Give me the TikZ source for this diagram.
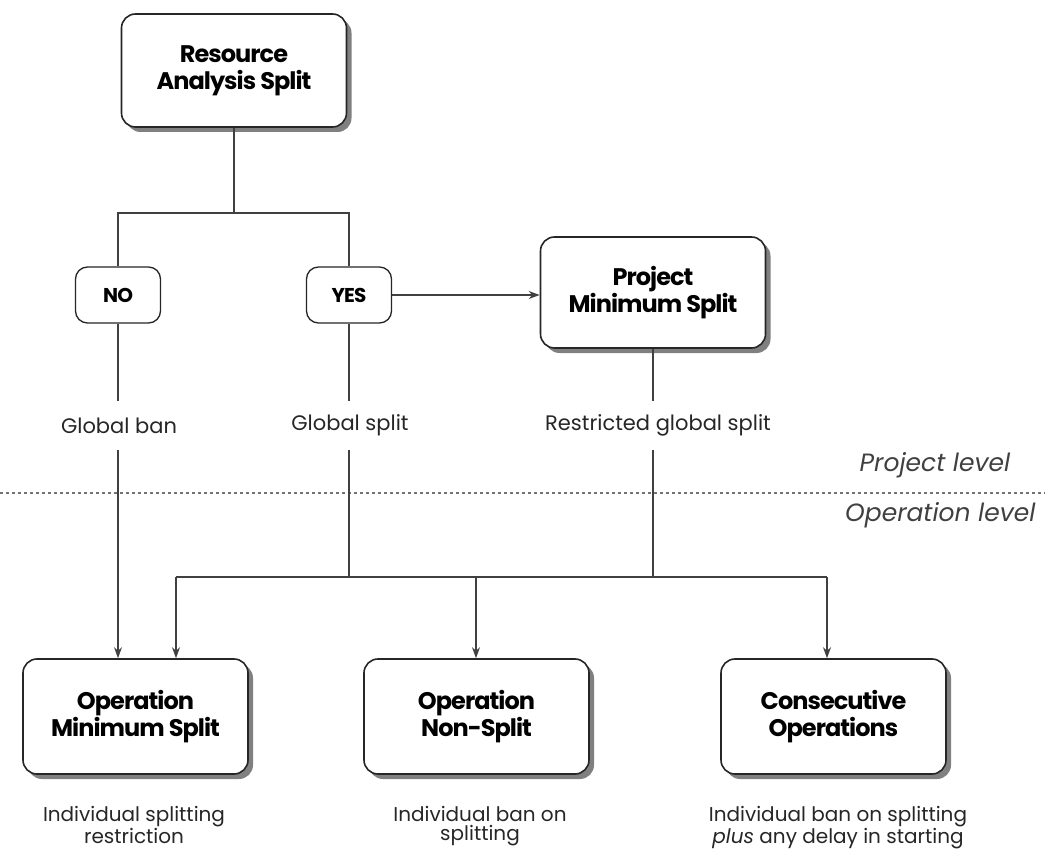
\documentclass[tikz,border=0pt]{standalone}
\usepackage{fontspec}
\setmainfont{Poppins}
\newfontfamily\boxfont{Poppins}[LetterSpace=-4]
\usetikzlibrary{shadows,arrows.meta}

\tikzset{
  bigbox/.style={draw=black!85, line width=1.6pt, rounded corners=14pt, fill=white,
    minimum width=225pt, minimum height=113pt, align=center, inner sep=0pt,
    font=\boxfont\bfseries\fontsize{24}{27}\selectfont,
    drop shadow={shadow xshift=5pt, shadow yshift=-5pt, fill=black!50, opacity=1}},
  choice/.style={draw=black!85, line width=1.3pt, rounded corners=12pt, fill=white,
    minimum width=85pt, minimum height=56pt, inner sep=0pt,
    font=\boxfont\bfseries\fontsize{20}{22}\selectfont},
  lbl/.style={inner sep=0pt, minimum height=49pt, text=black!85,
    font=\fontsize{21}{22}\selectfont},
  note/.style={inner sep=0pt, align=center, text=black!85, anchor=north,
    font=\fontsize{20}{19}\selectfont},
  lvl/.style={inner sep=0pt, text=black!75, font=\itshape\fontsize{25}{26}\selectfont},
  link/.style={draw=black!75, line width=1.6pt},
  arr/.style={link, -{Stealth[length=11pt,width=8pt]}},
}

\begin{document}
\begin{tikzpicture}[x=1pt,y=-1pt]
\useasboundingbox (0,0) rectangle (1045,853);

% top decision
\node[bigbox] (res) at (234,70.5) {Resource\\Analysis Split};
\node[choice] (no)  at (118,295) {NO};
\node[choice] (yes) at (349,295) {YES};
\node[bigbox, minimum height=111pt] (proj) at (653,292.5) {Project\\Minimum Split};

% project-level outcomes
\node[lbl] (gban)   at (119,425.5) {Global ban};
\node[lbl] (gsplit) at (350,425.5) {Global split};
\node[lbl] (rsplit) at (658,425.5) {Restricted global split};

% operation-level methods
\node[bigbox, minimum height=115pt] (om)  at (135.5,716.5) {Operation\\Minimum Split};
\node[bigbox, minimum height=115pt] (ons) at (476.5,716.5) {Operation\\Non-Split};
\node[bigbox, minimum height=115pt] (co)  at (833.5,716.5) {Consecutive\\Operations};

\node[note] (nom)  at (134,806) {Individual splitting\\restriction};
\node[note] (nons) at (480,806) {Individual ban on\\splitting};
\node[note] (nco)  at (838,806) {Individual ban on splitting\\\textit{plus} any delay in starting};

% level separator
\coordinate (sepL) at (0,493);
\coordinate (sepR) at (1045,493);
\draw[black!55, line width=1.5pt, dash pattern=on 2.5pt off 3.5pt] (sepL) -- (sepR);
\node[lvl] (plev) at (935,465) {Project level};
\node[lvl, anchor=west] (olev) at (845,515) {Operation level};

% branching from the top box
\coordinate (fork) at (234,213);
\draw[link] (res.south) -- (fork);
\draw[link] (no.north) |- (fork) -| (yes.north);
\draw[arr] (yes.east) -- (proj.west |- yes.east);

% down to the outcome labels
\draw[link] (no.south) -- (no.south |- gban.north);
\draw[link] (yes.south) -- (yes.south |- gsplit.north);
\draw[link] (proj.south) -- (proj.south |- rsplit.north);

% distribution bus
\coordinate (busL) at (176,577);
\coordinate (busM) at (476,577);
\coordinate (busR) at (827,577);
\draw[link] (yes.south |- gsplit.south) -- (yes.south |- busL);
\draw[link] (proj.south |- rsplit.south) -- (proj.south |- busL);
\draw[link] (busL) -- (busR);

\draw[arr] (no.south |- gban.south) -- (no.south |- om.north);
\draw[arr] (busL) -- (busL |- om.north);
\draw[arr] (busM) -- (busM |- ons.north);
\draw[arr] (busR) -- (busR |- co.north);
\end{tikzpicture}
\end{document}
